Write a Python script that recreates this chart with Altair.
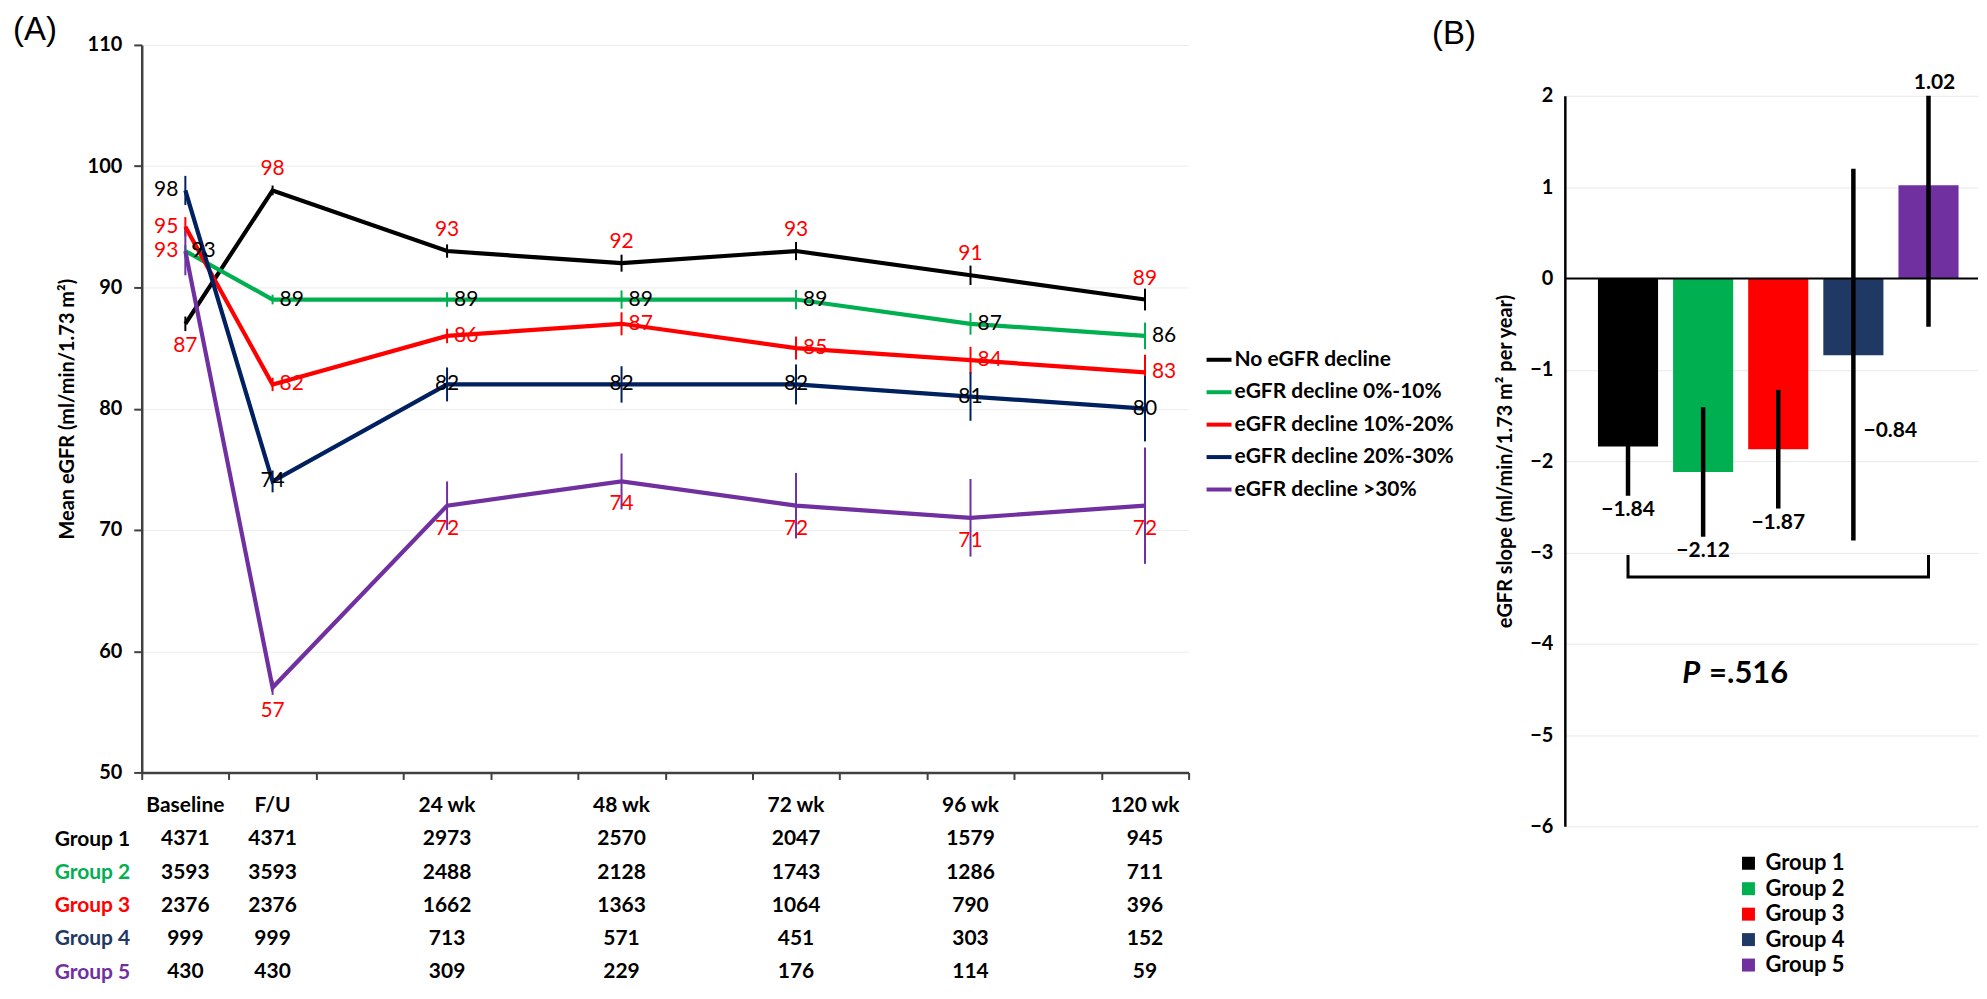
import altair as alt
import pandas as pd

# ---------------- data ----------------
timepoints = ["Baseline", "F/U", "24 wk", "48 wk", "72 wk", "96 wk", "120 wk"]
# category slots on the 12-slot time axis of panel A (uneven spacing in the original)
slot_centres = [0.5, 1.5, 3.5, 5.5, 7.5, 9.5, 11.5]
x_ticks_a = list(range(13))
y_ticks_a = [50, 60, 70, 80, 90, 100, 110]

series_names = ["No eGFR decline", "eGFR decline 0%-10%", "eGFR decline 10%-20%",
                "eGFR decline 20%-30%", "eGFR decline >30%"]
group_names = ["Group 1", "Group 2", "Group 3", "Group 4", "Group 5"]

mean_g1 = [87, 98, 93, 92, 93, 91, 89]
mean_g2 = [93, 89, 89, 89, 89, 87, 86]
mean_g3 = [95, 82, 86, 87, 85, 84, 83]
mean_g4 = [98, 74, 82, 82, 82, 81, 80]
mean_g5 = [93, 57, 72, 74, 72, 71, 72]

err_g1 = [0.6, 0.4, 0.55, 0.7, 0.75, 0.8, 0.9]
err_g2 = [0.5, 0.4, 0.6, 0.75, 0.8, 0.9, 1.1]
err_g3 = [0.8, 0.55, 0.6, 0.95, 0.95, 1.1, 1.45]
err_g4 = [1.2, 0.9, 1.4, 1.5, 1.65, 2.0, 2.7]
err_g5 = [2.0, 0.6, 2.0, 2.3, 2.7, 3.2, 4.8]

n_g1 = [4371, 4371, 2973, 2570, 2047, 1579, 945]
n_g2 = [3593, 3593, 2488, 2128, 1743, 1286, 711]
n_g3 = [2376, 2376, 1662, 1363, 1064, 790, 396]
n_g4 = [999, 999, 713, 571, 451, 303, 152]
n_g5 = [430, 430, 309, 229, 176, 114, 59]

slope_values = [-1.84, -2.12, -1.87, -0.84, 1.02]
slope_lo = [-2.38, -2.83, -2.52, -2.87, -0.53]
slope_hi = [-1.30, -1.41, -1.22, 1.20, 2.00]
slope_labels = ["\u22121.84", "\u22122.12", "\u22121.87", "\u22120.84", "1.02"]
y_ticks_b = [-6, -5, -4, -3, -2, -1, 0, 1, 2]
group4_label_y = -1.67
bracket_groups = ["Group 1", "Group 1", "Group 5", "Group 5"]
bracket_y = [-3.03, -3.27, -3.27, -3.03]
p_label_group = "Group 2"
p_label_y = -4.33
p_symbol = "P"
p_rest = "=.516"

# ---------------- styles ----------------
FONT = "Lato"
line_colors = ["#000000", "#00b050", "#ff0000", "#002060", "#7030a0"]
bar_colors = ["#000000", "#00b050", "#ff0000", "#1f3864", "#7030a0"]
table_label_colors = ["#000000", "#00b050", "#ff0000", "#1f3864", "#7030a0"]
RED = "#ff0000"
BLK = "#000000"
label_styles = [
    {"color": RED, "first": dict(align="center", dx=0, dy=22), "rest": dict(align="center", dx=0, dy=-21)},
    {"color": BLK, "first": dict(align="left", dx=6, dy=0), "rest": dict(align="left", dx=7, dy=0)},
    {"color": RED, "first": dict(align="right", dx=-7, dy=0), "rest": dict(align="left", dx=7, dy=0)},
    {"color": BLK, "first": dict(align="right", dx=-7, dy=0), "rest": dict(align="center", dx=0, dy=0)},
    {"color": RED, "first": dict(align="right", dx=-7, dy=0), "rest": dict(align="center", dx=0, dy=23)},
]
b_label_anchor = ["lo", "lo", "lo", "side", "hi"]

W_A, H_A = 1049, 729
W_B = 414

# ---------------- panel A ----------------
means = [mean_g1, mean_g2, mean_g3, mean_g4, mean_g5]
errs = [err_g1, err_g2, err_g3, err_g4, err_g5]
rows = []
for s, m, e in zip(series_names, means, errs):
    for tp, sl, v, er in zip(timepoints, slot_centres, m, e):
        rows.append({"series": s, "timepoint": tp, "slot": sl, "value": v,
                     "lo": v - er, "hi": v + er, "label": str(v)})
df_a = pd.DataFrame(rows)

x_scale_a = alt.Scale(domain=[0, 12], nice=False, zero=False)
y_scale_a = alt.Scale(domain=[50, 110], nice=False, zero=False)
x_axis_a = alt.Axis(values=x_ticks_a, labels=False, tickSize=7, tickWidth=2, tickColor="#404040",
                    domainColor="#404040", domainWidth=2.5, grid=False, title=None)
y_axis_a = alt.Axis(values=y_ticks_a, grid=True, gridColor="#ececec", gridWidth=1,
                    tickSize=8, tickWidth=2, tickColor="#404040", domainColor="#404040",
                    domainWidth=2.5, labelFontSize=20, labelFontWeight="bold", labelColor=BLK,
                    labelPadding=12, title="Mean eGFR (ml/min/1.73 m\u00b2)", titleFontSize=20,
                    titleFontWeight="bold", titleColor=BLK, titlePadding=10)

X_A = alt.X("slot:Q", scale=x_scale_a, axis=x_axis_a)

base_a = alt.Chart(df_a)
layers_a = []
for s, c in zip(series_names, line_colors):
    layers_a.append(
        base_a.transform_filter(alt.datum.series == s)
        .mark_rule(color=c, strokeWidth=2)
        .encode(x=X_A, y=alt.Y("lo:Q", scale=y_scale_a, axis=y_axis_a), y2="hi:Q")
    )

lines = base_a.mark_line(strokeWidth=4.2).encode(
    x=X_A,
    y=alt.Y("value:Q", scale=y_scale_a, axis=y_axis_a),
    color=alt.Color("series:N", scale=alt.Scale(domain=series_names, range=line_colors),
                    legend=alt.Legend(orient="none", legendX=1065, legendY=301, title=None,
                                      symbolType="stroke", symbolStrokeWidth=4, symbolSize=625,
                                      labelFont=FONT, labelFontSize=21, labelFontWeight="bold",
                                      labelColor=BLK, rowPadding=7.5, labelOffset=1,
                                      labelLimit=0)),
    order="slot:Q",
)
layers_a.append(lines)

for s, st in zip(series_names, label_styles):
    for part, cond in (("first", f"datum.timepoint === '{timepoints[0]}'"),
                       ("rest", f"datum.timepoint !== '{timepoints[0]}'")):
        p = st[part]
        layers_a.append(
            base_a.transform_filter(f"datum.series === '{s}' && {cond}")
            .mark_text(font=FONT, fontSize=21, color=st["color"], align=p["align"],
                       baseline="middle", dx=p["dx"], dy=p["dy"])
            .encode(x=X_A, y=alt.Y("value:Q", scale=y_scale_a, axis=y_axis_a), text="label:N")
        )

panel_a = alt.layer(*layers_a).properties(
    width=W_A, height=H_A,
    title=alt.TitleParams("(A)", anchor="start", frame="group", dx=-129, offset=-12,
                          font="Liberation Sans", fontSize=33, fontWeight="normal", color=BLK),
)

# ---------------- table under panel A ----------------
counts = [n_g1, n_g2, n_g3, n_g4, n_g5]
trows = [{"row": "hdr", "slot": sl, "txt": tp} for sl, tp in zip(slot_centres, timepoints)]
for g, ns in zip(group_names, counts):
    for sl, n in zip(slot_centres, ns):
        trows.append({"row": g, "slot": sl, "txt": str(n)})
df_t = pd.DataFrame(trows)

label_color_cond = {
    "condition": [{"test": f"datum.value === '{g}'", "value": c}
                  for g, c in zip(group_names, table_label_colors)],
    "value": BLK,
}
table = alt.Chart(df_t).mark_text(font=FONT, fontSize=21, fontWeight="bold", color=BLK).encode(
    x=alt.X("slot:Q", scale=x_scale_a, axis=None),
    y=alt.Y("row:N", scale=alt.Scale(type="point", domain=["hdr"] + group_names, padding=0),
            axis=alt.Axis(title=None, domain=False, ticks=False, grid=False, labelPadding=12,
                          labelExpr="datum.value === 'hdr' ? '' : datum.value",
                          labelColor=label_color_cond, labelFontSize=21,
                          labelFontWeight="bold", labelFont=FONT)),
    text="txt:N",
).properties(width=W_A, height=166)

left = alt.vconcat(panel_a, table, spacing=34, bounds="flush")

# ---------------- panel B ----------------
df_b = pd.DataFrame({"group": group_names, "slope": slope_values, "lo": slope_lo,
                     "hi": slope_hi, "label": slope_labels, "anchor": b_label_anchor})
df_b["label_y"] = [lo if a == "lo" else (hi if a == "hi" else group4_label_y)
                   for lo, hi, a in zip(slope_lo, slope_hi, b_label_anchor)]

x_scale_b = alt.Scale(domain=group_names, paddingInner=0.2, paddingOuter=0.35, align=0.63)
y_scale_b = alt.Scale(domain=[-6, 2], nice=False, zero=False)
y_axis_b = alt.Axis(values=y_ticks_b, grid=True, gridColor="#e8e8e8", gridWidth=1, ticks=False,
                    domainColor=BLK, domainWidth=2.5, labelPadding=12, labelFontSize=20,
                    labelFontWeight="bold", labelColor=BLK,
                    title="eGFR slope (ml/min/1.73 m\u00b2 per year)", titleFontSize=20,
                    titleFontWeight="bold", titleColor=BLK, titlePadding=14)
X_B = alt.X("group:N", scale=x_scale_b, axis=None)
base_b = alt.Chart(df_b)

bars = base_b.mark_bar().encode(
    x=X_B,
    y=alt.Y("slope:Q", scale=y_scale_b, axis=y_axis_b),
    color=alt.Color("group:N", scale=alt.Scale(domain=group_names, range=bar_colors),
                    legend=alt.Legend(orient="none", legendX=173, legendY=809, title=None,
                                      symbolType="square", symbolSize=169, symbolStrokeWidth=0,
                                      labelFont=FONT, labelFontSize=22, labelFontWeight="bold",
                                      labelColor=BLK, rowPadding=3.5, labelOffset=6)),
)
zero_line = alt.Chart(pd.DataFrame({"zero": [0]})).mark_rule(color=BLK, strokeWidth=2).encode(
    y=alt.Y("zero:Q", scale=y_scale_b, axis=y_axis_b))
err_b = base_b.mark_rule(color=BLK, strokeWidth=4.5).encode(
    x=X_B, y=alt.Y("lo:Q", scale=y_scale_b, axis=y_axis_b), y2="hi:Q")
df_br = pd.DataFrame({"group": bracket_groups, "y": bracket_y, "k": list(range(len(bracket_y)))})
bracket = alt.Chart(df_br).mark_line(color=BLK, strokeWidth=3).encode(
    x=X_B, y=alt.Y("y:Q", scale=y_scale_b, axis=y_axis_b), order="k:Q")

lab_lo = base_b.transform_filter("datum.anchor === 'lo'").mark_text(
    font=FONT, fontSize=21, fontWeight="bold", color=BLK, baseline="top", dy=3).encode(
    x=X_B, y=alt.Y("label_y:Q", scale=y_scale_b, axis=y_axis_b), text="label:N")
lab_side = base_b.transform_filter("datum.anchor === 'side'").mark_text(
    font=FONT, fontSize=21, fontWeight="bold", color=BLK, baseline="middle", dx=37).encode(
    x=X_B, y=alt.Y("label_y:Q", scale=y_scale_b, axis=y_axis_b), text="label:N")
lab_hi = base_b.transform_filter("datum.anchor === 'hi'").mark_text(
    font=FONT, fontSize=21, fontWeight="bold", color=BLK, baseline="bottom", dy=-3, dx=6).encode(
    x=X_B, y=alt.Y("label_y:Q", scale=y_scale_b, axis=y_axis_b), text="label:N")

df_p = pd.DataFrame({"group": [p_label_group], "y": [p_label_y], "p": [p_symbol], "rest": [p_rest]})
p1 = alt.Chart(df_p).mark_text(font=FONT, fontSize=31, fontWeight="bold", fontStyle="italic",
                               color=BLK, align="right", dx=-3).encode(
    x=X_B, y=alt.Y("y:Q", scale=y_scale_b, axis=y_axis_b), text="p:N")
p2 = alt.Chart(df_p).mark_text(font=FONT, fontSize=31, fontWeight="bold", color=BLK,
                               align="left", dx=6).encode(
    x=X_B, y=alt.Y("y:Q", scale=y_scale_b, axis=y_axis_b), text="rest:N")

panel_b = alt.layer(bars, zero_line, err_b, bracket, lab_lo, lab_side, lab_hi, p1, p2).properties(
    width=W_B, height=732)

spacer = alt.Chart(pd.DataFrame({"v": [0]})).mark_point(opacity=0).encode(
    x=alt.X("v:Q", axis=None), y=alt.Y("v:Q", axis=None)
).properties(
    width=W_B, height=1,
    title=alt.TitleParams("(B)", anchor="start", frame="group", dx=-133, offset=-8,
                          font="Liberation Sans", fontSize=33, fontWeight="normal", color=BLK),
)
right = alt.vconcat(spacer, panel_b, spacing=50, bounds="flush")

chart = alt.hconcat(left, right, spacing=-22).resolve_scale(color="independent").properties(
    padding={"left": 5, "top": 5, "right": 0, "bottom": 0}
).configure(font=FONT).configure_view(stroke=None).configure_axis(labelFont=FONT, titleFont=FONT)

chart.save("out.html", embed_options={"renderer": "svg", "actions": False})
